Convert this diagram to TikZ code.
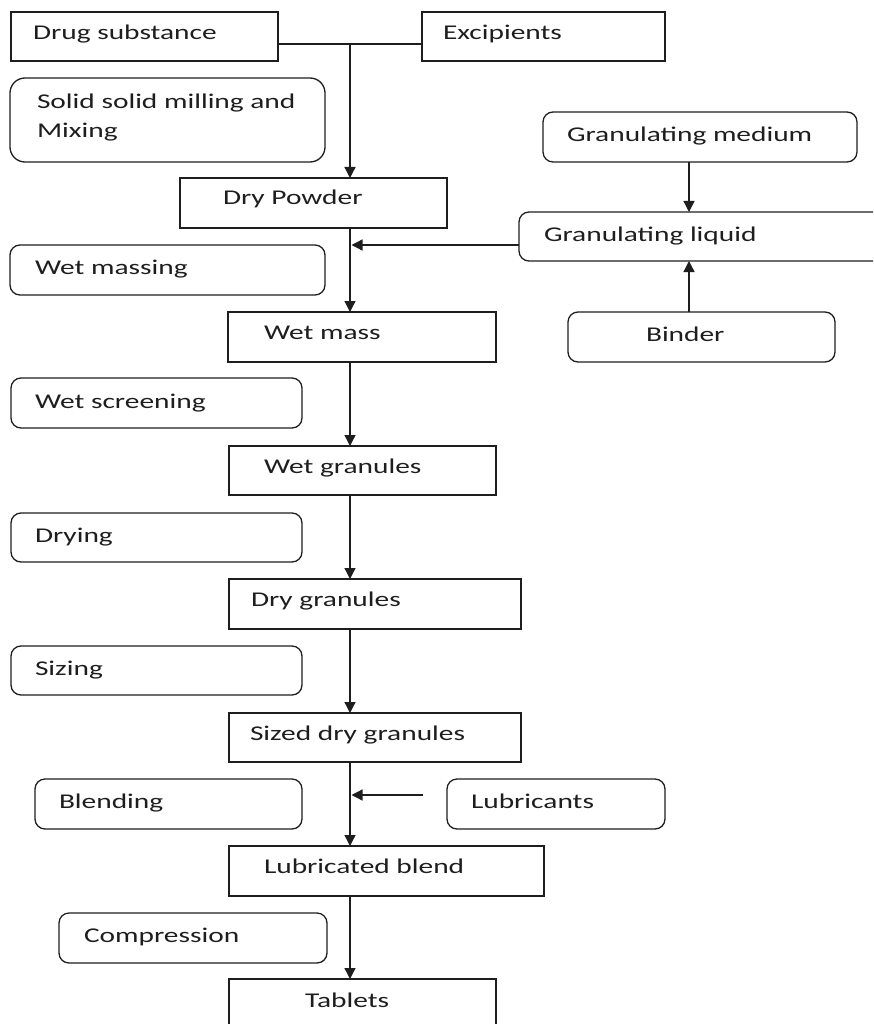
\documentclass[tikz,border=0pt]{standalone}
\usepackage{fontspec}
\setmainfont{Carlito}[FakeStretch=1.4]
\usetikzlibrary{arrows.meta}
\definecolor{ink}{HTML}{1E1E1E}
\begin{document}
\begin{tikzpicture}[x=1pt,y=-1pt,
  sqbox/.style={draw=ink,line width=1.3pt,rectangle,inner sep=0pt,outer sep=0pt,anchor=north west},
  rbox/.style={sqbox,rounded corners=10pt},
  lbl/.style={anchor=base west,inner sep=0pt,outer sep=0pt,text=ink,font=\fontsize{21}{25}\selectfont},
  arr/.style={draw=ink,line width=1.3pt,-{Triangle[width=11pt,length=11pt]}},
  ln/.style={draw=ink,line width=1.3pt}]
\useasboundingbox (0,0) rectangle (873,1024);
\clip (0,0) rectangle (873,1024);
% boxes
\node[sqbox,minimum width=267pt,minimum height=49pt] (ds) at (11,12) {};
\node[sqbox,minimum width=243pt,minimum height=49pt] (ex) at (422,12) {};
\node[rbox,rounded corners=15pt,minimum width=315pt,minimum height=84pt] (sol) at (10,78) {};
\node[rbox,minimum width=314pt,minimum height=50pt] (gm) at (543,112) {};
\node[sqbox,minimum width=267pt,minimum height=50pt] (dp) at (180,178) {};
\node[rbox,minimum width=380pt,minimum height=49pt] (gl) at (519,212) {};
\node[rbox,minimum width=315pt,minimum height=50pt] (wms) at (10,245) {};
\node[sqbox,minimum width=268pt,minimum height=50pt] (wm) at (228,312) {};
\node[rbox,minimum width=267pt,minimum height=50pt] (bi) at (568,312) {};
\node[rbox,minimum width=291pt,minimum height=50pt] (wsc) at (11,378) {};
\node[sqbox,minimum width=267pt,minimum height=49pt] (wg) at (229,446) {};
\node[rbox,minimum width=291pt,minimum height=49pt] (dry) at (11,513) {};
\node[sqbox,minimum width=292pt,minimum height=50pt] (dg) at (229,579) {};
\node[rbox,minimum width=291pt,minimum height=49pt] (siz) at (11,646) {};
\node[sqbox,minimum width=292pt,minimum height=49pt] (sdg) at (229,713) {};
\node[rbox,minimum width=267pt,minimum height=50pt] (ble) at (35,779) {};
\node[rbox,minimum width=218pt,minimum height=50pt] (lub) at (447,779) {};
\node[sqbox,minimum width=315pt,minimum height=50pt] (lb) at (229,846) {};
\node[rbox,minimum width=268pt,minimum height=50pt] (com) at (59,913) {};
\node[sqbox,minimum width=267pt,minimum height=70pt] (tab) at (229,979) {};
% texts
\node[lbl] (ds-t) at (33,40) {Drug substance};
\node[lbl] (ex-t) at (443,40) {Excipients};
\node[lbl] (sol-t1) at (37,109) {Solid solid milling and};
\node[lbl] (sol-t2) at (37,138) {Mixing};
\node[lbl] (gm-t) at (567,142) {Granulating medium};
\node[lbl] (dp-t) at (223,205) {Dry Powder};
\node[lbl] (gl-t) at (544,241) {Granulating liquid};
\node[lbl] (wms-t) at (35,274) {Wet massing};
\node[lbl] (wm-t) at (264,339) {Wet mass};
\node[lbl] (bi-t) at (646,341) {Binder};
\node[lbl] (wsc-t) at (35,408) {Wet screening};
\node[lbl] (wg-t) at (264,473) {Wet granules};
\node[lbl] (dry-t) at (35,542) {Drying};
\node[lbl] (dg-t) at (251,606) {Dry granules};
\node[lbl] (siz-t) at (35,675) {Sizing};
\node[lbl] (sdg-t) at (250,740) {Sized dry granules};
\node[lbl] (ble-t) at (59,808) {Blending};
\node[lbl] (lub-t) at (471,808) {Lubricants};
\node[lbl] (lb-t) at (264,873) {Lubricated blend};
\node[lbl] (com-t) at (84,942) {Compression};
\node[lbl] (tab-t) at (305,1007) {Tablets};
% connectors
\coordinate (j) at (350,44);
\coordinate (lubend) at (423,795);
\draw[ln] (ds.east |- j) -- (ex.west |- j);
\draw[arr] (j) -- (j |- dp.north);
\draw[arr] (j |- dp.south) -- (j |- wm.north);
\draw[arr] (gl.west |- 0,245) -- (351.5,245);
\draw[arr] (gm.south -| 689,0) -- (gl.north -| 689,0);
\draw[arr] (bi.north -| 689,0) -- (gl.south -| 689,0);
\draw[arr] (j |- wm.south) -- (j |- wg.north);
\draw[arr] (j |- wg.south) -- (j |- dg.north);
\draw[arr] (j |- dg.south) -- (j |- sdg.north);
\draw[arr] (j |- sdg.south) -- (j |- lb.north);
\draw[arr] (lubend) -- (351.5,795);
\draw[arr] (j |- lb.south) -- (j |- tab.north);
\end{tikzpicture}
\end{document}
